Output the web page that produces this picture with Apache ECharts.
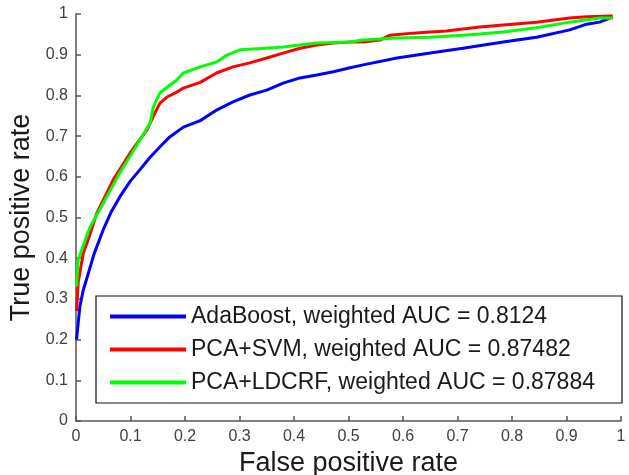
<!DOCTYPE html>
<html>
<head>
<meta charset="utf-8">
<script src="https://cdn.jsdelivr.net/npm/echarts@6/dist/echarts.min.js"></script>
<style>
html,body{margin:0;padding:0;background:#fff;}
#c{width:629px;height:475px;}
</style>
</head>
<body>
<div id="c"></div>
<script>
var seriesNames = [
  'AdaBoost, weighted AUC = 0.8124',
  'PCA+SVM, weighted AUC = 0.87482',
  'PCA+LDCRF, weighted AUC = 0.87884'
];
var seriesColors = ['#0000ff', '#ff0000', '#00ff00'];

var adaFpr = [0.001,0.004,0.007,0.013,0.022,0.033,0.05,0.065,0.08,0.1,0.117,0.136,0.155,0.172,0.197,0.228,0.258,0.288,0.319,0.35,0.38,0.411,0.442,0.472,0.503,0.527,0.589,0.65,0.71,0.784,0.845,0.906,0.937,0.961,0.985];
var adaTpr = [0.2,0.24,0.28,0.32,0.36,0.41,0.47,0.515,0.55,0.59,0.617,0.648,0.675,0.698,0.722,0.738,0.764,0.784,0.801,0.813,0.83,0.843,0.85,0.858,0.868,0.875,0.892,0.904,0.916,0.931,0.943,0.961,0.975,0.98,0.993];

var svmFpr = [0.001,0.004,0.013,0.026,0.038,0.068,0.099,0.13,0.145,0.154,0.167,0.185,0.197,0.228,0.258,0.288,0.319,0.35,0.38,0.411,0.442,0.472,0.503,0.527,0.558,0.576,0.618,0.65,0.68,0.71,0.741,0.784,0.845,0.906,0.937,0.985];
var svmTpr = [0.27,0.34,0.41,0.46,0.51,0.592,0.658,0.715,0.757,0.781,0.796,0.808,0.818,0.832,0.855,0.87,0.88,0.892,0.904,0.916,0.924,0.929,0.931,0.931,0.936,0.948,0.953,0.956,0.958,0.963,0.968,0.973,0.98,0.99,0.993,0.995];

var crfFpr = [0.001,0.004,0.026,0.05,0.08,0.11,0.136,0.142,0.154,0.167,0.185,0.197,0.228,0.258,0.277,0.301,0.35,0.38,0.411,0.442,0.503,0.527,0.589,0.65,0.71,0.741,0.784,0.845,0.906,0.961,0.985];
var crfTpr = [0.33,0.396,0.477,0.535,0.609,0.674,0.732,0.772,0.806,0.82,0.838,0.855,0.87,0.882,0.899,0.912,0.916,0.919,0.924,0.929,0.931,0.936,0.941,0.943,0.948,0.951,0.956,0.966,0.98,0.99,0.99];

var tickValues = ['0','0.1','0.2','0.3','0.4','0.5','0.6','0.7','0.8','0.9','1'];

function pairs(xs, ys){ var o=[]; for(var i=0;i<xs.length;i++){o.push([xs[i],ys[i]]);} return o; }
var allData = [pairs(adaFpr,adaTpr), pairs(svmFpr,svmTpr), pairs(crfFpr,crfTpr)];

var axisCommon = {
  type:'value', min:0, max:1, interval:0.1,
  axisLine:{show:true, lineStyle:{color:'#555', width:1.5}},
  axisTick:{show:true, inside:true, length:5, lineStyle:{color:'#555', width:1.5}},
  splitLine:{show:false},
  axisLabel:{color:'#404040', fontFamily:'Liberation Sans', fontSize:16, hideOverlap:false,
    showMinLabel:true, showMaxLabel:true,
    formatter:function(v){ var i=Math.round(v*10); return tickValues[i]; }},
  nameTextStyle:{color:'#1a1a1a', fontFamily:'Liberation Sans', fontSize:27},
  nameLocation:'middle'
};

var chart = echarts.init(document.getElementById('c'), null, {renderer:'canvas'});
chart.setOption({
  animation:false,
  backgroundColor:'#fff',
  grid:{left:76, top:14, right:8, bottom:54, containLabel:false, outerBoundsMode:'none'},
  xAxis: Object.assign({}, axisCommon, {name:'False positive rate', nameGap:27,
    axisLabel:Object.assign({}, axisCommon.axisLabel, {margin:8})}),
  yAxis: Object.assign({}, axisCommon, {name:'True positive rate', nameGap:30, nameRotate:90,
    axisLabel:Object.assign({}, axisCommon.axisLabel, {margin:8})}),
  legend:{
    orient:'vertical', left:96, top:296,
    backgroundColor:'#fff', borderColor:'#111', borderWidth:1.2,
    padding:[9,27,9,14], itemGap:10, itemWidth:76, itemHeight:4, icon:'rect',
    textStyle:{color:'#1a1a1a', fontFamily:'Liberation Sans', fontSize:23},
    data:seriesNames
  },
  series: seriesNames.map(function(n,i){
    return {name:n, type:'line', data:allData[i], showSymbol:false, symbol:'none',
      color:seriesColors[i], lineStyle:{color:seriesColors[i], width:3}, z:2+i};
  })
});
</script>
</body>
</html>
